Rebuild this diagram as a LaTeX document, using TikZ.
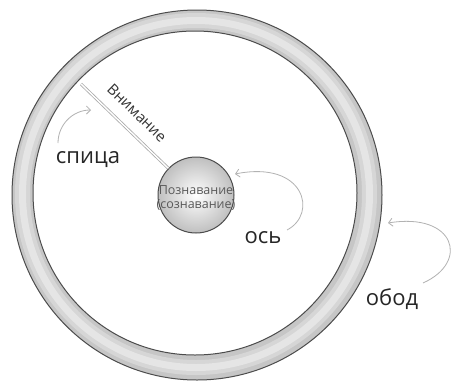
\documentclass[tikz,border=0pt]{standalone}
\usepackage{fontspec}
\setmainfont{Open Sans}
\usetikzlibrary{arrows.meta}
\begin{document}
\begin{tikzpicture}[x=1pt,y=-1pt,
  lbl/.style={font=\fontsize{22}{22}\selectfont, text=black!85, inner sep=0pt},
  pointer/.style={draw=gray!60, line width=0.8pt, -{Straight Barb[length=4pt,width=8pt]}},
  rimline/.style={draw=black!70, line width=1pt}]
\useasboundingbox (0,0) rectangle (455,381);
\fill[white] (0,0) rectangle (455,381);
% rim
\coordinate (oc) at (197,195);
\coordinate (ic) at (195,193);
\fill[gray!45, even odd rule] (oc) circle (185pt) (ic) circle (162pt);
\draw[gray!32, line width=15pt] (196,194) circle (173.5pt);
\draw[gray!20, line width=7pt] (196,194) circle (173.5pt);
\draw[rimline] (oc) circle (185pt);
\draw[rimline] (ic) circle (162pt);
% hub
\node[circle, minimum size=76pt, draw=black!70, line width=1pt,
      inner color=white, outer color=gray!50] (hub) at (196,195) {};
\node[font=\fontsize{12.5}{13.5}\selectfont, text=black!65, align=center, inner sep=0pt]
  (hubtext) at (196,198) {Познавание\\(сознавание)};
% spoke
\coordinate (sp) at (81,84);
\draw[gray!65, double=white, double distance=1.4pt, line width=0.8pt] (sp) -- (hub);
\node[font=\fontsize{15}{15}\selectfont, text=black!80, rotate=-44, inner sep=0pt]
  (vn) at (137,113) {Внимание};
% labels
\node[lbl] (spica) at (88,160) {спица};
\node[lbl] (os) at (263,238) {ось};
\node[lbl] (obod) at (392,299) {обод};
% pointers
\coordinate (s1) at (58,143);
\coordinate (s2) at (91,110);
\draw[pointer] (s1) to[bend left=45] (s2);
\coordinate (o1) at (287,230);
\coordinate (o2) at (235,174);
\draw[pointer] (o1) .. controls (318,214) and (305,160) .. (o2);
\coordinate (b1) at (423,283);
\coordinate (b2) at (388,223);
\draw[pointer] (b1) .. controls (470,262) and (455,212) .. (b2);
\end{tikzpicture}
\end{document}
